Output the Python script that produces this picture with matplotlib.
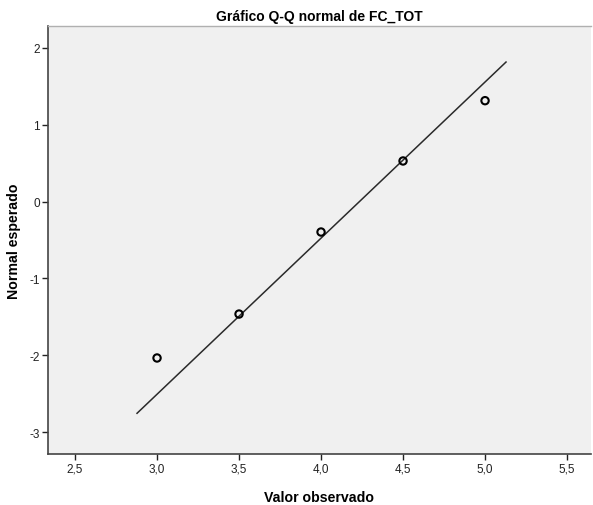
import matplotlib
matplotlib.use("Agg")
import matplotlib.pyplot as plt
import numpy as np

plt.rcParams['font.family'] = ['Liberation Sans', 'DejaVu Sans']

# Observed values and their expected normal scores
observed = [3.0, 3.5, 4.0, 4.5, 5.0]
expected = [-2.036, -1.464, -0.396, 0.529, 1.314]

# Reference line: (x - mean) / sd over the drawn range
line_mean = 4.234
line_sd = 0.492
line_x = [2.878, 5.128]

x_ticks = [2.5, 3.0, 3.5, 4.0, 4.5, 5.0, 5.5]
y_ticks = [-3, -2, -1, 0, 1, 2]

fig = plt.figure(figsize=(5.93, 5.06), dpi=100)
ax = fig.add_axes([0.0809, 0.1008, 0.9157, 0.8458])
ax.set_facecolor("#f0f0f0")

lx = np.array(line_x)
ax.plot(lx, (lx - line_mean) / line_sd, color="#2a2a2a", lw=1.1)
ax.scatter(observed, expected, s=28, facecolors="none", edgecolors="black",
           linewidths=1.5, zorder=3)

ax.set_xlim(2.335, 5.646)
ax.set_ylim(-3.286, 2.286)
ax.set_xticks(x_ticks)
ax.set_xticklabels([f"{v:.1f}".replace(".", ",") for v in x_ticks])
ax.set_yticks(y_ticks)
ax.set_yticklabels([str(v) for v in y_ticks])
ax.tick_params(direction="out", length=4, width=1, colors="#222222",
               labelsize=8.5, pad=2)

ax.spines["top"].set_color("#b0b0b0")
ax.spines["top"].set_linewidth(1)
ax.spines["right"].set_visible(False)
for s in ["left", "bottom"]:
    ax.spines[s].set_color("#444444")
    ax.spines[s].set_linewidth(1.2)

ax.set_title("Gráfico Q-Q normal de FC_TOT", fontsize=10, fontweight="bold", pad=4)
ax.set_xlabel("Valor observado", fontsize=10.2, fontweight="bold", labelpad=11)
ax.set_ylabel("Normal esperado", fontsize=10.2, fontweight="bold", labelpad=6)

fig.savefig("out.png", dpi=100)
